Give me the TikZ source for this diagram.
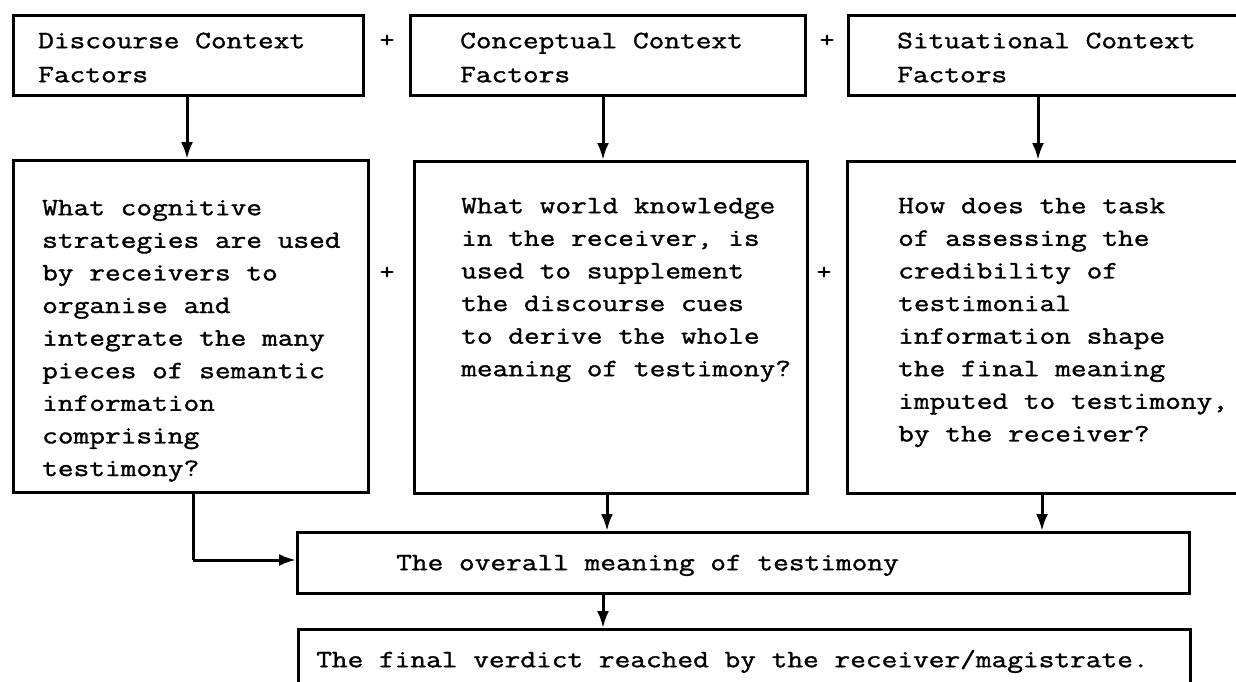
\documentclass[tikz,border=0pt]{standalone}
\usepackage{fontspec}
\newfontfamily\tw{Latin Modern Mono}[FakeStretch=1.22, FakeBold=1.3]
\usetikzlibrary{arrows.meta}
\begin{document}
\begin{tikzpicture}[x=1pt,y=-1pt,
  box/.style={draw, line width=3pt, anchor=north west, inner sep=0pt},
  txt/.style={anchor=north west, align=left, inner sep=0pt,
    font=\tw\fontsize{25}{32.6}\selectfont},
  plus/.style={inner sep=0pt, font=\tw\fontsize{24}{24}\selectfont},
  arr/.style={line width=3pt, -{Latex[length=17pt,width=12pt]}},
  conn/.style={line width=3pt}]
\useasboundingbox (0,0) rectangle (1236,682);
\fill[white] (0,0) rectangle (1236,682);
% top row
\node[box, minimum width=350pt, minimum height=80pt] (d1) at (12,14) {};
\node[box, minimum width=395pt, minimum height=80pt] (c1) at (409,14) {};
\node[box, minimum width=403pt, minimum height=80pt] (s1) at (847,14) {};
\node[txt] (d1t) at (38,25.2) {\strut Discourse Context\\[1.4pt]Factors};
\node[txt] (c1t) at (460,25.2) {\strut Conceptual Context\\[1.4pt]Factors};
\node[txt] (s1t) at (897,25.2) {\strut Situational Context\\[1.4pt]Factors};
\node[plus] (p1) at (387,41) {+};
\node[plus] (p2) at (827,41) {+};
% second row
\node[box, minimum width=355pt, minimum height=332pt] (q1) at (12,159) {};
\node[box, minimum width=393pt, minimum height=332pt] (q2) at (413,160) {};
\node[box, minimum width=404pt, minimum height=332pt] (q3) at (846,160) {};
\node[txt] (q1t) at (42,192.2) {\strut What cognitive\\strategies are used\\by receivers to\\organise and\\integrate the many\\pieces of semantic\\information\\comprising\\testimony?};
\node[txt] (q2t) at (461,190.2) {\strut What world knowledge\\in the receiver, is\\used to supplement\\the discourse cues\\to derive the whole\\meaning of testimony?};
\node[txt] (q3t) at (898,190.2) {\strut How does the task\\of assessing the\\credibility of\\testimonial\\information shape\\the final meaning\\imputed to testimony,\\by the receiver?};
\node[plus] (p3) at (387,273) {+};
\node[plus] (p4) at (824,273) {+};
% bottom
\node[box, minimum width=892pt, minimum height=61pt] (mid) at (296,531) {};
\node[box, minimum width=892pt, minimum height=82pt] (fin) at (297,628) {};
\node[txt] (midt) at (396,547.2) {\strut The overall meaning of testimony};
\node[txt] (fint) at (316,644.2) {\strut The final verdict reached by the receiver/magistrate.};
% connectors
\draw[arr] (187,0 |- d1.south) -- (187,0 |- q1.north);
\draw[arr] (603,0 |- c1.south) -- (603,0 |- q2.north);
\draw[arr] (1038,0 |- s1.south) -- (1038,0 |- q3.north);
\coordinate (bend) at (193,560);
\draw[conn] (193,0 |- q1.south) -- (bend);
\draw[arr] (bend) -- (mid.west |- bend);
\draw[arr] (607,0 |- q2.south) -- (607,0 |- mid.north);
\draw[arr] (1042,0 |- q3.south) -- (1042,0 |- mid.north);
\draw[arr] (603,0 |- mid.south) -- (603,0 |- fin.north);
\end{tikzpicture}
\end{document}
